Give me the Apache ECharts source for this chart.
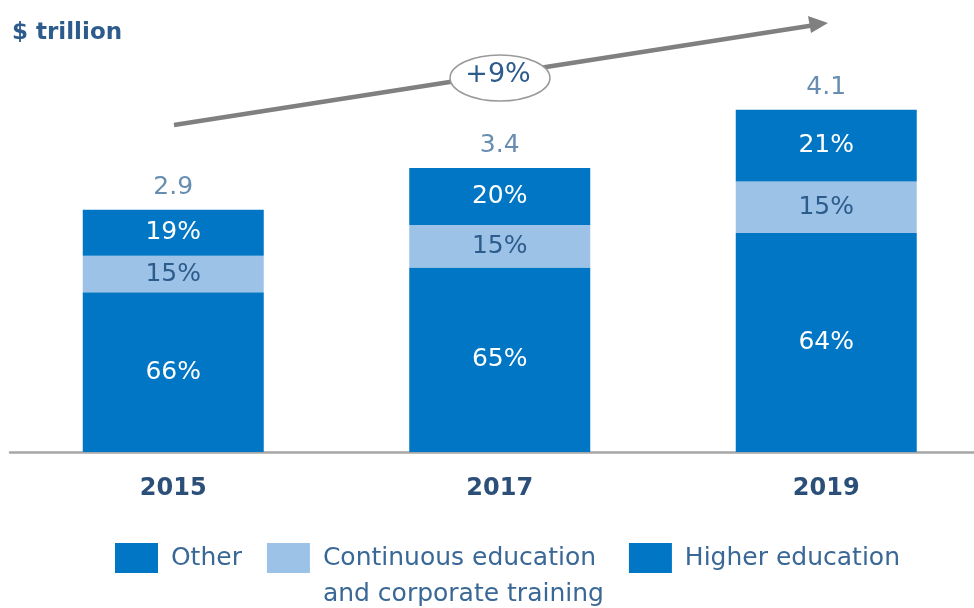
<!DOCTYPE html>
<html>
<head>
<meta charset="utf-8">
<script src="https://cdn.jsdelivr.net/npm/echarts@6/dist/echarts.min.js"></script>
<style>
  html, body { margin: 0; padding: 0; background: #fff; }
  #main { width: 974px; height: 608px; }
</style>
</head>
<body>
<div id="main"></div>
<script>
// data
var years = ['2015', '2017', '2019']
var totals = [2.9, 3.4, 4.1]             // $ trillion
var higherPct = [66, 65, 64]
var continuousPct = [15, 15, 15]
var otherPct = [19, 20, 21]
var growthLabel = '+9%'

var darkBlue = '#0076c4'
var lightBlue = '#9cc3e7'
var textBlue = '#2d5c8c'
var font = 'DejaVu Sans, sans-serif'
var contName = 'Continuous education and corporate training'

// segment height = share of the year total
function part (pct) {
  return pct.map(function (p, i) { return +(totals[i] * p / 100).toFixed(4) })
}

function pctLabel (arr, color) {
  return {
    show: true,
    position: 'inside',
    color: color,
    fontSize: 25,
    fontFamily: font,
    formatter: function (p) { return arr[p.dataIndex] + '%' }
  }
}

var chart = echarts.init(document.getElementById('main'))
chart.setOption({
  animation: false,
  grid: { left: 10, top: 34.5, bottom: 156, right: -15.5, outerBoundsMode: 'none' },
  legend: {
    left: 110,
    top: 499,
    itemWidth: 43,
    itemHeight: 30,
    itemGap: 25,
    icon: 'rect',
    selectedMode: false,
    textStyle: { fontSize: 25, color: '#3a6896', fontFamily: font, lineHeight: 36 },
    formatter: function (name) {
      // blank first line keeps the first text line level with the icon
      if (name === contName) return ' \n Continuous education\n and corporate training'
      return ' ' + name
    },
    data: ['Other', contName, 'Higher education']
  },
  xAxis: {
    type: 'category',
    data: years,
    axisLine: { lineStyle: { color: '#a6a6a6', width: 2.5 } },
    axisTick: { show: false },
    axisLabel: { margin: 25, fontSize: 24, fontWeight: 'bold', color: '#2b4f78', fontFamily: font }
  },
  yAxis: { type: 'value', min: 0, max: 5, show: false },
  series: [
    {
      name: 'Higher education',
      type: 'bar',
      stack: 'total',
      barWidth: 181,
      itemStyle: { color: darkBlue },
      label: pctLabel(higherPct, '#ffffff'),
      data: part(higherPct)
    },
    {
      name: contName,
      type: 'bar',
      stack: 'total',
      itemStyle: { color: lightBlue },
      label: pctLabel(continuousPct, textBlue),
      data: part(continuousPct)
    },
    {
      name: 'Other',
      type: 'bar',
      stack: 'total',
      itemStyle: { color: darkBlue },
      label: pctLabel(otherPct, '#ffffff'),
      data: part(otherPct)
    },
    {
      // total value above each bar
      name: 'Total',
      type: 'scatter',
      symbolSize: 0,
      silent: true,
      label: {
        show: true,
        position: 'top',
        distance: 10,
        fontSize: 25,
        color: '#41709d',
        fontFamily: font,
        formatter: function (p) { return p.value.toFixed(1) }
      },
      data: totals
    }
  ],
  graphic: [
    {
      type: 'text',
      left: 12,
      top: 22,
      style: { text: '$ trillion', fontSize: 23, fontWeight: 'bold', fill: textBlue, fontFamily: font }
    },
    {
      // growth arrow
      type: 'line',
      shape: { x1: 174, y1: 125, x2: 812, y2: 25.5 },
      style: { stroke: '#808080', lineWidth: 4.5 }
    },
    {
      type: 'polygon',
      shape: { points: [[828, 23], [808, 16], [811, 33]] },
      style: { fill: '#808080' }
    },
    {
      type: 'ellipse',
      shape: { cx: 500, cy: 78, rx: 50, ry: 23 },
      style: { fill: '#ffffff', stroke: '#9a9a9a', lineWidth: 1.5 }
    },
    {
      type: 'text',
      x: 498,
      y: 75,
      style: {
        text: growthLabel,
        fontSize: 27,
        fill: textBlue,
        fontFamily: font,
        align: 'center',
        verticalAlign: 'middle'
      }
    }
  ]
})
</script>
</body>
</html>
